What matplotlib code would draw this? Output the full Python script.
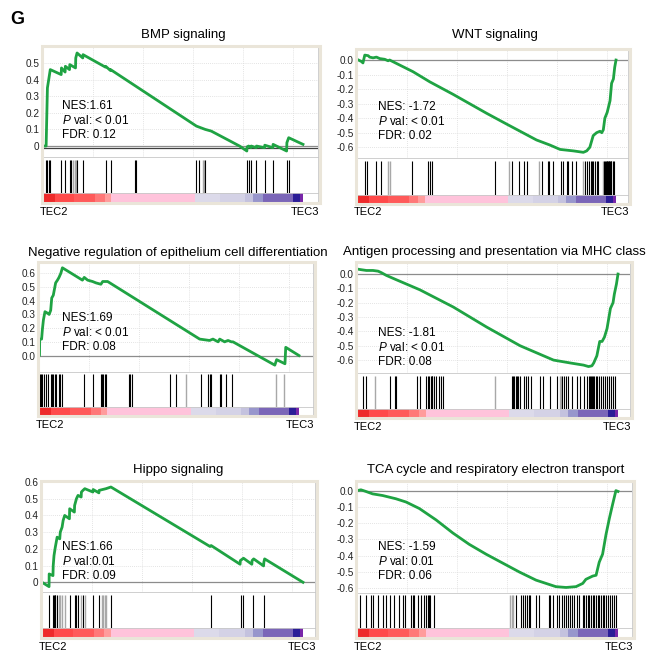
import matplotlib
matplotlib.use('Agg')
import matplotlib.pyplot as plt
from matplotlib.patches import Rectangle

plt.rcParams['font.family'] = ['Liberation Sans', 'DejaVu Sans']
plt.rcParams['mathtext.fontset'] = 'custom'
plt.rcParams['mathtext.rm'] = 'Liberation Sans'
plt.rcParams['mathtext.it'] = 'Liberation Sans:italic'

W, H = 646, 667

# ---- data: running enrichment score (x = % of ranked list) ----
bmp_x = [0, 1.2, 1.3, 1.7, 2.3, 2.8, 7.0, 7.1, 8.5, 8.6, 10.2, 10.3, 12.5, 12.6, 13.1, 15.3, 15.4,
         24.0, 24.1, 25.9, 26.0, 59.0, 62.4, 64.7, 75.6, 78.4, 78.5, 79.1, 80.0, 80.1, 82.0, 82.1,
         85.2, 85.3, 88.4, 88.5, 93.7, 93.8, 94.5, 100]
bmp_es = [0, 0, 0.07, 0.35, 0.41, 0.46, 0.43, 0.47, 0.445, 0.48, 0.46, 0.49, 0.47, 0.53, 0.56, 0.53, 0.55,
          0.475, 0.48, 0.455, 0.46, 0.12, 0.10, 0.09, 0.0, -0.03, -0.005, 0.0, -0.01, 0.0, -0.01, 0.0,
          -0.01, 0.005, -0.01, 0.01, -0.03, 0.02, 0.05, 0.01]
bmp_hits = [1.3, 1.7, 2.3, 2.8, 7.1, 8.6, 10.3, 10.9, 13.1, 15.4, 24.1, 26.0, 35.3, 35.9, 59.0, 59.9,
            62.4, 78.5, 79.1, 80.1, 82.1, 85.3, 88.5, 93.8, 94.5]
bmp_gray = [11.5, 12.2, 12.6, 61.5, 61.9]

wnt_x = [0, 1.7, 2.3, 3.0, 4.3, 4.9, 6.2, 7.5, 8.8, 10.7, 12.0, 12.6, 21.6, 28.1, 37.1, 50.0, 57.7,
         69.3, 74.5, 78.4, 83.5, 87.4, 88.7, 89.9, 91.2, 92.5, 93.8, 94.5, 95.1, 95.7, 96.6, 97.7,
         98.3, 99.0, 99.5, 100]
wnt_es = [0.005, -0.01, -0.02, 0.034, 0.03, 0.02, 0.015, 0.02, 0.01, 0.005, -0.005, 0.0, -0.08, -0.15,
          -0.236, -0.366, -0.44, -0.55, -0.585, -0.615, -0.625, -0.635, -0.625, -0.60, -0.52, -0.50,
          -0.49, -0.50, -0.48, -0.40, -0.36, -0.28, -0.16, -0.13, -0.05, 0.0]
wnt_hits = [3.0, 3.9, 7.5, 9.4, 21.3, 27.4, 28.1, 28.9, 53.2, 59.7, 62.6, 64.4, 65.7, 71.6, 73.6, 74.2,
            75.8, 78.6, 79.6, 80.9, 81.6, 82.9, 84.4, 88.0, 88.7, 89.7, 90.2, 90.6, 91.2, 91.9, 92.5,
            93.2, 95.4, 95.9, 96.1, 96.4, 96.6, 96.9, 97.2, 97.4, 97.7, 97.9, 98.2, 98.7, 99.2]
wnt_gray = [12.0, 12.6, 58.8, 70.4, 87.4, 94.8]

neg_x = [0, 0.2, 0.26, 1.0, 1.3, 1.7, 2.3, 3.2, 3.9, 4.5, 4.9, 5.5, 5.8, 6.4, 7.1, 7.7, 8.4, 9.0,
         16.7, 17.4, 18.7, 20.6, 21.9, 23.8, 24.5, 26.4, 61.8, 65.6, 66.9, 68.9, 69.5, 71.4, 72.7,
         74.0, 74.6, 90.7, 91.4, 94.6, 94.9, 100]
neg_es = [0, 0, 0.12, 0.12, 0.19, 0.26, 0.32, 0.31, 0.30, 0.33, 0.42, 0.44, 0.47, 0.53, 0.55, 0.57,
          0.60, 0.64, 0.55, 0.57, 0.55, 0.54, 0.53, 0.52, 0.54, 0.54, 0.12, 0.11, 0.12, 0.10, 0.12,
          0.10, 0.11, 0.10, 0.10, -0.07, -0.03, -0.06, 0.06, 0.0]
neg_hits = [0.3, 0.8, 1.3, 1.9, 2.6, 3.6, 4.5, 5.1, 5.5, 6.2, 6.7, 7.5, 8.1, 9.0, 17.4, 20.6, 23.8,
            24.2, 24.7, 25.2, 25.7, 34.5, 35.0, 35.8, 50.2, 52.8, 62.4, 65.0, 65.6, 66.3, 69.5, 70.1,
            72.1, 74.4]
neg_gray = [56.6, 91.1, 94.2]

mhc_x = [0, 1.7, 3.6, 6.1, 8.1, 9.3, 11.3, 15.1, 24.1, 36.9, 49.7, 62.5, 68.9, 75.3, 81.7, 86.8,
         88.7, 90.0, 90.7, 91.9, 93.0, 93.9, 94.8, 95.8, 97.1, 98.1, 98.6, 99.4, 100]
mhc_es = [0.035, 0.03, 0.025, 0.025, 0.02, 0.01, -0.01, -0.04, -0.11, -0.23, -0.37, -0.50, -0.55,
          -0.60, -0.62, -0.635, -0.645, -0.64, -0.62, -0.57, -0.47, -0.47, -0.44, -0.38, -0.24,
          -0.20, -0.14, -0.07, 0.0]
mhc_hits = [2.3, 3.3, 12.5, 14.5, 15.1, 22.8, 24.1, 26.6, 27.3, 27.7, 28.2, 28.6, 28.9, 29.4, 30.2,
            31.5, 32.0, 32.8, 59.3, 59.9, 60.3, 60.8, 61.2, 61.8, 62.5, 63.8, 64.7, 65.7, 66.6, 70.2,
            71.4, 74.0, 76.8, 78.6, 79.4, 80.2, 81.0, 82.3, 84.3, 85.5, 86.8, 88.1, 88.7, 89.1, 89.6,
            90.0, 90.4, 90.9, 91.4, 91.9, 92.7, 93.5, 94.2, 95.1, 95.8, 96.5, 97.3, 98.1, 99.0]
mhc_gray = [6.8, 52.9, 77.6, 78.1]

hippo_x = [0, 2.7, 2.75, 4.2, 4.3, 4.6, 5.1, 5.8, 6.8, 7.0, 7.7, 8.1, 8.7, 10.5, 10.6, 12.4, 12.5,
           13.2, 13.8, 15.0, 15.1, 15.7, 16.4, 19.5, 19.6, 21.8, 21.9, 24.5, 26.4, 64.4, 64.8,
           75.9, 76.0, 77.2, 80.4, 80.5, 81.1, 84.9, 85.0, 85.3, 100]
hippo_es = [0, -0.026, 0.05, 0.04, 0.10, 0.16, 0.21, 0.27, 0.26, 0.30, 0.33, 0.37, 0.40, 0.38, 0.44,
            0.42, 0.46, 0.50, 0.52, 0.51, 0.54, 0.55, 0.56, 0.54, 0.555, 0.535, 0.55, 0.56, 0.57,
            0.214, 0.22, 0.108, 0.13, 0.144, 0.108, 0.13, 0.14, 0.098, 0.12, 0.14, 0.0]
hippo_hits = [2.7, 4.2, 4.6, 4.9, 5.1, 5.8, 10.6, 12.5, 13.2, 13.8, 15.7, 19.6, 21.9, 26.4, 64.8,
              76.2, 77.2, 80.7, 84.9]
hippo_gray = [6.4, 7.0, 7.7, 8.7, 15.1, 16.4, 22.8, 23.4, 24.1, 24.5]

tca_x = [0, 1.5, 3.4, 6.0, 9.8, 14.9, 18.8, 23.9, 30.3, 36.7, 43.0, 49.4, 55.8, 62.2, 68.6, 72.4,
         76.2, 80.1, 83.9, 86.5, 87.7, 90.3, 91.6, 92.8, 94.1, 95.4, 96.7, 98.0, 98.6, 99.2, 100]
tca_es = [0.0, 0.005, -0.005, -0.02, -0.03, -0.05, -0.07, -0.11, -0.18, -0.26, -0.33, -0.39, -0.445,
          -0.50, -0.55, -0.57, -0.59, -0.595, -0.59, -0.57, -0.545, -0.525, -0.52, -0.44, -0.39,
          -0.27, -0.17, -0.08, -0.04, 0.0, -0.005]
tca_hits = [1.1, 3.4, 5.4, 6.3, 7.9, 9.8, 11.1, 12.6, 14.3, 16.2, 17.5, 18.5, 20.7, 21.3, 21.9, 23.2,
            24.5, 25.8, 26.4, 27.1, 27.5, 28.1, 29.4, 60.9, 62.8, 63.7, 64.4, 65.0, 65.8, 66.3, 68.6,
            69.9, 73.4, 73.9, 75.0, 76.5, 77.5, 78.5, 79.4, 80.1, 80.7, 81.6, 82.4, 83.3, 84.2, 85.2,
            86.5, 87.1, 87.7, 88.4, 89.0, 89.7, 90.3, 90.9, 91.6, 92.2, 92.8, 93.5, 94.1, 94.8, 95.4,
            96.2, 96.9, 97.7, 98.5, 99.2]
tca_gray = [58.6, 59.3, 59.9]

# ranked-list colour bar (shared)
cbar_edges = [0, 4.5, 12, 19.9, 23.7, 26.3, 58.3, 68, 77.6, 80.8, 84.6, 96.2, 98.7, 100]
cbar_colors = ['#EE2A2A', '#FF4A4A', '#FF5A5A', '#FF7878', '#FF9C9C', '#FFC3DB', '#DCDAEA',
               '#D4D2E6', '#C4C2DE', '#9896CC', '#7B66B8', '#2B1D97', '#7826A8']

titles = ['BMP signaling', 'WNT signaling', 'Negative regulation of epithelium cell differentiation',
          'Antigen processing and presentation via MHC class', 'Hippo signaling',
          'TCA cycle and respiratory electron transport']
nes = ['NES:1.61', 'NES: -1.72', 'NES:1.69', 'NES: -1.81', 'NES:1.66', 'NES: -1.59']
pval = ['$P$ val: < 0.01', '$P$ val: < 0.01', '$P$ val: < 0.01', '$P$ val: < 0.01',
        '$P$ val:0.01', '$P$ val: 0.01']
fdr = ['FDR: 0.12', 'FDR: 0.02', 'FDR: 0.08', 'FDR: 0.08', 'FDR: 0.09', 'FDR: 0.06']

pos_ticks6 = [0, 0.1, 0.2, 0.3, 0.4, 0.5, 0.6]
neg_ticks6 = [0, -0.1, -0.2, -0.3, -0.4, -0.5, -0.6]
series = [
    (bmp_x, bmp_es, bmp_hits, bmp_gray, pos_ticks6[:6], ['0', '0.1', '0.2', '0.3', '0.4', '0.5']),
    (wnt_x, wnt_es, wnt_hits, wnt_gray, neg_ticks6, ['0.0', '-0.1', '-0.2', '-0.3', '-0.4', '-0.5', '-0.6']),
    (neg_x, neg_es, neg_hits, neg_gray, pos_ticks6, ['0.0', '0.1', '0.2', '0.3', '0.4', '0.5', '0.6']),
    (mhc_x, mhc_es, mhc_hits, mhc_gray, neg_ticks6, ['0.0', '-0.1', '-0.2', '-0.3', '-0.4', '-0.5', '-0.6']),
    (hippo_x, hippo_es, hippo_hits, hippo_gray, pos_ticks6, ['0', '0.1', '0.2', '0.3', '0.4', '0.5', '0.6']),
    (tca_x, tca_es, tca_hits, tca_gray, neg_ticks6, ['0.0', '-0.1', '-0.2', '-0.3', '-0.4', '-0.5', '-0.6']),
]

# layout in pixels: left, right, top, es_bottom, hits_bottom, cbar_bottom, data_end, ylim,
# title (x, y), stats (x, y), TEC label y
layout = [
    (43, 318, 47, 157, 193, 202, 303, (-0.066, 0.596), (183, 35), (62, 106), 212),
    (357, 628, 50, 158, 195, 203, 616, (-0.674, 0.069), (495, 35), (378, 107), 212),
    (39, 313, 263, 372, 407, 415, 299, (-0.12, 0.675), (178, 253), (62, 318), 425),
    (357, 630, 263, 373, 409, 417, 618, (-0.69, 0.077), (494, 252), (378, 333), 427),
    (42, 315, 482, 592, 628, 637, 303, (-0.058, 0.60), (178, 470), (62, 547), 647),
    (357, 632, 482, 593, 628, 637, 618, (-0.629, 0.053), (496, 470), (378, 547), 647),
]

fig = plt.figure(figsize=(W / 100, H / 100), dpi=100)


def px_ax(l, t, r, b):
    return fig.add_axes([l / W, 1 - b / H, (r - l) / W, (b - t) / H])


for i, (xs, es, hits, gray, ticks, labels) in enumerate(series):
    l, r, t, eb, hb, cb, de, ylim, tpos, spos, tec_y = layout[i]
    xmax = 100.0 * (r - l) / (de - l)
    step = 100.0 * 50 / (de - l)

    # enrichment score plot
    ax = px_ax(l, t, r, eb)
    for k in range(1, 6):
        ax.axvline(step * k, color='#DADADA', lw=0.6, ls=(0, (1, 1.5)), zorder=0)
    for yv in ticks:
        if yv != 0:
            ax.axhline(yv, color='#DADADA', lw=0.6, ls=(0, (1, 1.5)), zorder=0)
    ax.axhline(0, color='#8C8C8C', lw=0.9, zorder=1)
    if i == 0:
        ax.axhline(-0.012, color='#404040', lw=0.9, zorder=1)
    ax.plot(xs, es, color='#1FA343', lw=2.0, zorder=3)
    ax.set_xlim(0, xmax)
    ax.set_ylim(*ylim)
    ax.set_xticks([])
    ax.set_yticks(ticks)
    ax.set_yticklabels(labels)
    ax.tick_params(axis='y', length=0, pad=2.5, labelsize=7.2, labelcolor='#222222')
    for s in ax.spines.values():
        s.set_color('#C8C8C8')
        s.set_linewidth(0.6)

    # hit strip
    hx = px_ax(l, eb, r, hb)
    hx.vlines(gray, 0, 0.93, color='#A8A8A8', lw=1.0)
    hx.vlines(hits, 0, 0.93, color='black', lw=0.8)
    hx.set_xlim(0, xmax)
    hx.set_ylim(0, 1)
    hx.set_xticks([])
    hx.set_yticks([])
    for s in hx.spines.values():
        s.set_color('#C8C8C8')
        s.set_linewidth(0.6)

    # ranked list colour bar
    cx = px_ax(l, hb, r, cb)
    for e0, e1, c in zip(cbar_edges[:-1], cbar_edges[1:], cbar_colors):
        cx.axvspan(e0, e1, color=c, lw=0)
    cx.set_xlim(0, xmax)
    cx.set_xticks([])
    cx.set_yticks([])
    for s in cx.spines.values():
        s.set_color('#C8C8C8')
        s.set_linewidth(0.6)

    # beige frame
    fig.patches.append(Rectangle(((l - 1) / W, 1 - (cb + 1) / H), (r - l + 2.5) / W, (cb - t + 2) / H,
                                 transform=fig.transFigure, fill=False, ec='#EAE5D9', lw=2.2))

    fig.text(tpos[0] / W, 1 - tpos[1] / H, titles[i], ha='center', va='center', fontsize=9.5)
    for j, s in enumerate([nes[i], pval[i], fdr[i]]):
        fig.text(spos[0] / W, 1 - (spos[1] + 14.5 * j) / H, s, ha='left', va='center', fontsize=8.5)
    fig.text((l - 3) / W, 1 - tec_y / H, 'TEC2', ha='left', va='center', fontsize=8)
    fig.text((r + 1) / W, 1 - tec_y / H, 'TEC3', ha='right', va='center', fontsize=8)

fig.text(10 / W, 1 - 20 / H, 'G', ha='left', va='center', fontsize=13, fontweight='bold')

fig.savefig('out.png', dpi=100)
